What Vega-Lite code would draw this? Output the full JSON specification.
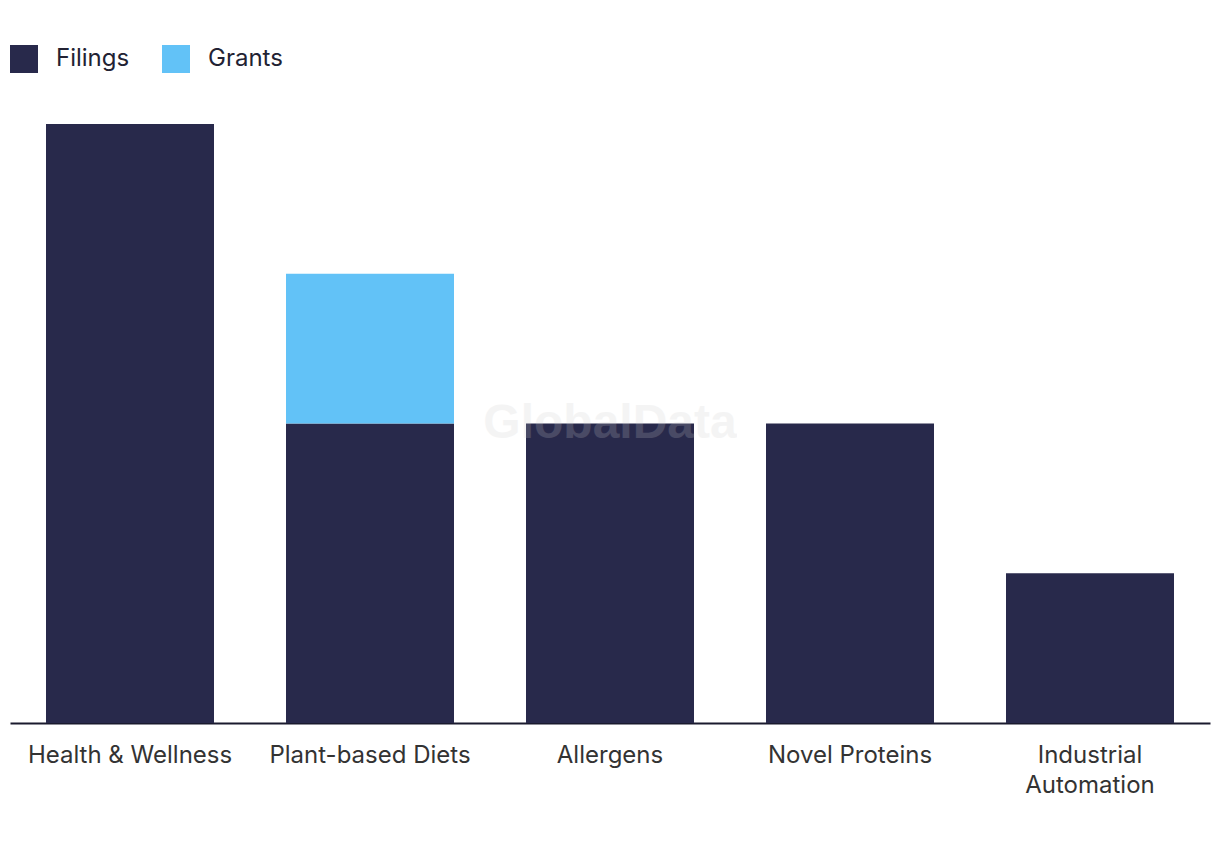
{
  "$schema": "https://vega.github.io/schema/vega-lite/v6.json",
  "width": 1200,
  "height": 599,
  "padding": {"left": 10, "top": 45, "right": 10, "bottom": 10},
  "background": "white",
  "config": {"view": {"stroke": null}, "font": "Inter"},
  "layer": [
    {
      "data": {"values": [
        {"category": "Health & Wellness", "type": "Filings", "value": 4},
        {"category": "Plant-based Diets", "type": "Filings", "value": 2},
        {"category": "Plant-based Diets", "type": "Grants", "value": 1},
        {"category": "Allergens", "type": "Filings", "value": 2},
        {"category": "Novel Proteins", "type": "Filings", "value": 2},
        {"category": "Industrial Automation", "type": "Filings", "value": 1}
      ]},
      "mark": {"type": "bar"},
      "encoding": {
        "x": {
          "field": "category", "type": "nominal", "sort": null,
          "scale": {"paddingInner": 0.3, "paddingOuter": 0.15},
          "axis": {
            "title": null, "labelAngle": 0, "ticks": false,
            "domainColor": "#1a1a2e", "domainWidth": 2,
            "labelFontSize": 24, "labelColor": "#333333", "labelPadding": 20,
            "labelLineHeight": 30, "labelFont": "Inter", "labelLimit": 0,
            "labelExpr": "datum.label == 'Industrial Automation' ? ['Industrial', 'Automation'] : datum.label"
          }
        },
        "y": {
          "field": "value", "type": "quantitative", "stack": "zero",
          "scale": {"domain": [0, 4], "nice": false},
          "axis": null
        },
        "color": {
          "field": "type", "type": "nominal",
          "scale": {"domain": ["Filings", "Grants"], "range": ["#28294b", "#62c2f7"]},
          "legend": {
            "title": null, "orient": "none", "legendX": 0, "legendY": -79,
            "direction": "horizontal", "symbolType": "square", "symbolSize": 784,
            "symbolStrokeWidth": 0, "labelFontSize": 24, "labelColor": "#222233",
            "labelFont": "Inter", "labelOffset": 18, "columnPadding": 32, "labelLimit": 0
          }
        },
        "order": {"field": "type", "sort": "ascending"}
      }
    },
    {
      "data": {"values": [{"t": "GlobalData"}]},
      "mark": {"type": "text", "font": "Liberation Sans", "fontWeight": "bold", "fontSize": 48, "fill": "#cccccc", "opacity": 0.2, "align": "center", "baseline": "middle"},
      "encoding": {"text": {"field": "t"}}
    }
  ]
}
